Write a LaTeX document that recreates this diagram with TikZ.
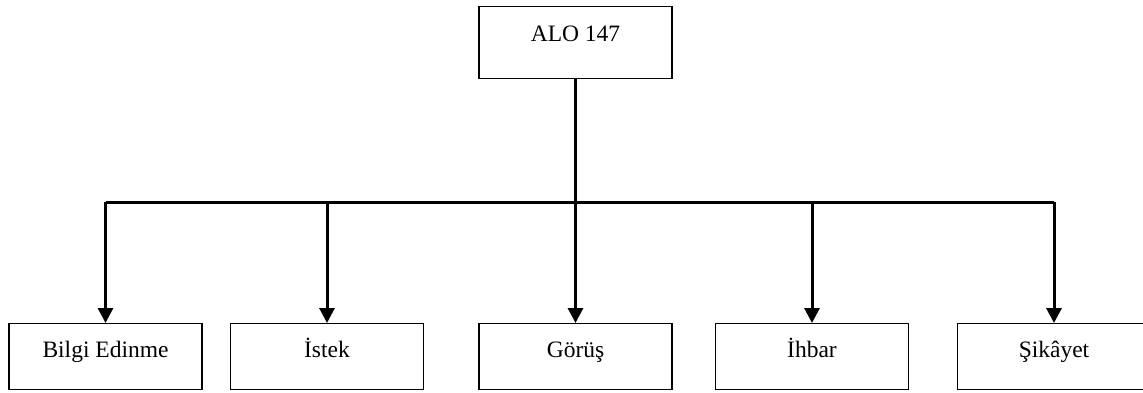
\documentclass[tikz,border=0pt]{standalone}
\usepackage{fontspec}
\setmainfont{Liberation Serif}
\usetikzlibrary{arrows.meta}
\begin{document}
\begin{tikzpicture}[x=1pt,y=-1pt,
  box/.style={draw,line width=1.4pt,inner sep=0pt,minimum width=193pt,
    font=\fontsize{23.5}{26}\selectfont,text height=34pt,text depth=32pt},
  topbox/.style={box,text height=35pt,text depth=37pt},
  conn/.style={line width=3pt},
  arr/.style={conn,-{Triangle[width=15pt,length=15pt]}}]
\useasboundingbox (0,0) rectangle (1143,392);
\node[topbox,anchor=north] (top) at (575.5,6) {ALO 147};
\node[box,anchor=north] (b1) at (105.5,323) {Bilgi Edinme};
\node[box,anchor=north] (b2) at (327,323) {İstek};
\node[box,anchor=north] (b3) at (575.5,323) {Görüş};
\node[box,anchor=north] (b4) at (812,323) {İhbar};
\node[box,anchor=north] (b5) at (1054,323) {Şikâyet};
\coordinate (bus) at (575.5,202);
\draw[conn] (top.south) -- (bus);
\draw[conn] (b1.north |- bus) -- (b5.north |- bus);
\foreach \b in {b1,b2,b3,b4,b5}
  \draw[arr] (\b.north |- bus) -- (\b.north);
\end{tikzpicture}
\end{document}
